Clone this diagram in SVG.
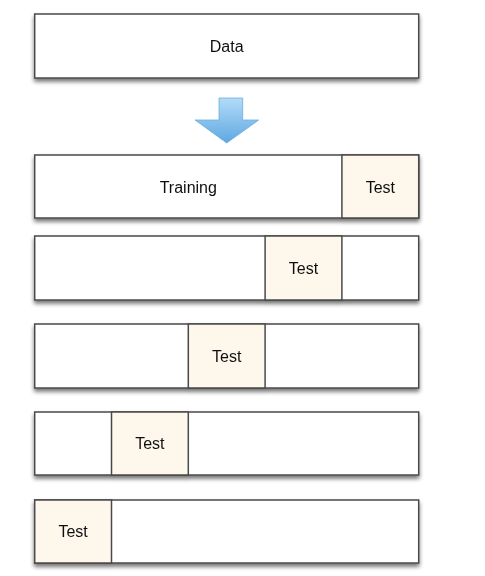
<svg xmlns="http://www.w3.org/2000/svg" width="485" height="576" viewBox="0 0 485 576">
<defs>
<filter id="sh" x="-5%" y="-20%" width="110%" height="160%">
<feGaussianBlur in="SourceAlpha" stdDeviation="2"/>
<feOffset dx="0" dy="3" result="b"/>
<feComponentTransfer><feFuncA type="linear" slope="0.55"/></feComponentTransfer>
<feMerge><feMergeNode/><feMergeNode in="SourceGraphic"/></feMerge>
</filter>
<linearGradient id="ag" x1="0" y1="0" x2="0" y2="1">
<stop offset="0" stop-color="#b3dbf7"/>
<stop offset="1" stop-color="#5ea8e2"/>
</linearGradient>
</defs>
<style>
.box{fill:#ffffff;stroke:#4a4a4a;stroke-width:1.5}
.test{fill:#fdf7ec;stroke:#4a4a4a;stroke-width:1.5}
.lbl{font-family:"Liberation Sans",Arial,sans-serif;font-size:16px;fill:#111;text-anchor:middle;dominant-baseline:central}
</style>
<rect width="485" height="576" fill="#ffffff"/>
<g id="data" filter="url(#sh)">
<rect class="box" x="34.7" y="14" width="384" height="64"/>
<text class="lbl" x="226.7" y="46">Data</text>
</g>
<g id="connectors">
<path d="M219,98 H242.7 V120 H258.7 L226.7,143 L195,120 H219 Z" fill="url(#ag)" stroke="#6aaee0" stroke-width="0.8"/>
</g>
<g id="fold1" filter="url(#sh)">
<rect class="box" x="34.7" y="155" width="384" height="63"/>
<rect class="test" x="341.9" y="155" width="76.8" height="63"/>
<text class="lbl" x="188.3" y="187">Training</text>
<text class="lbl" x="380.3" y="187">Test</text>
</g>
<g id="fold2" filter="url(#sh)">
<rect class="box" x="34.7" y="236" width="384" height="64"/>
<rect class="test" x="265.1" y="236" width="76.8" height="64"/>
<text class="lbl" x="303.5" y="268">Test</text>
</g>
<g id="fold3" filter="url(#sh)">
<rect class="box" x="34.7" y="324" width="384" height="64"/>
<rect class="test" x="188.3" y="324" width="76.8" height="64"/>
<text class="lbl" x="226.7" y="356">Test</text>
</g>
<g id="fold4" filter="url(#sh)">
<rect class="box" x="34.7" y="412" width="384" height="63"/>
<rect class="test" x="111.5" y="412" width="76.8" height="63"/>
<text class="lbl" x="149.9" y="443.5">Test</text>
</g>
<g id="fold5" filter="url(#sh)">
<rect class="box" x="34.7" y="500" width="384" height="63"/>
<rect class="test" x="34.7" y="500" width="76.8" height="63"/>
<text class="lbl" x="73.1" y="531.5">Test</text>
</g>
</svg>
